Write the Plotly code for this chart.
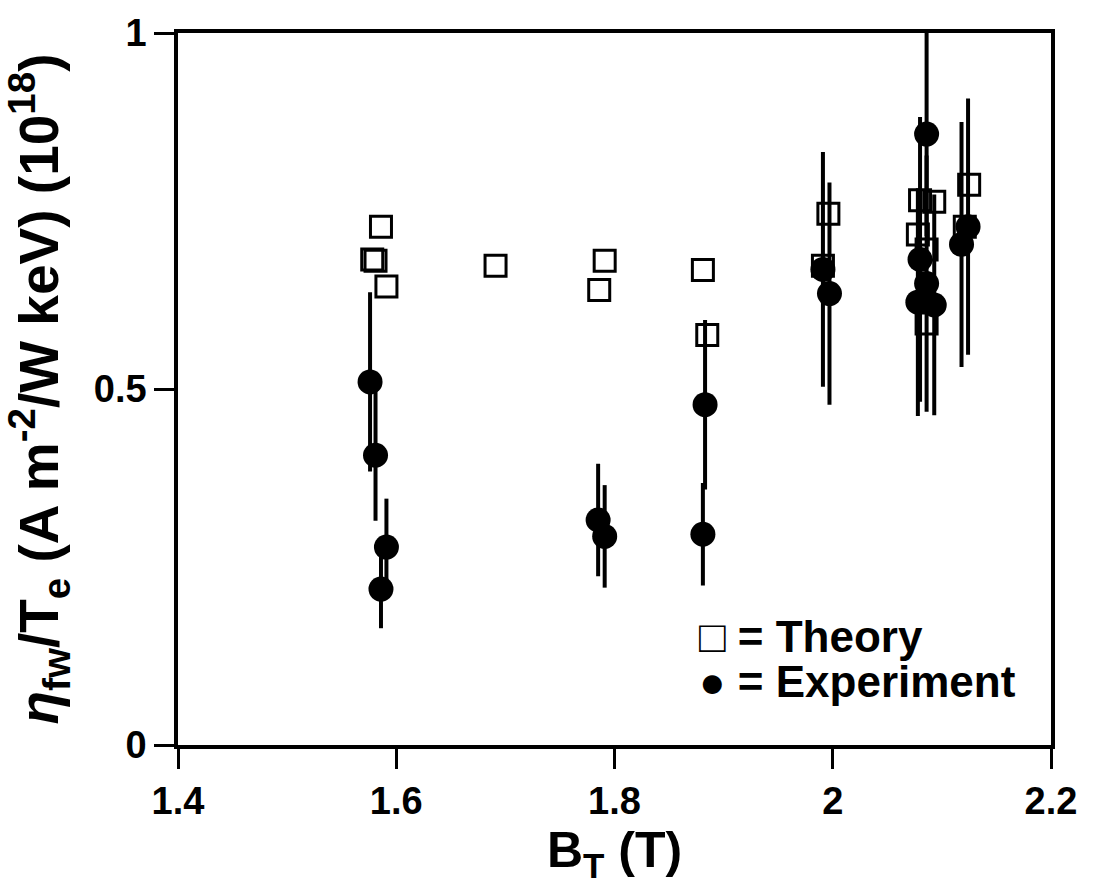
import plotly.graph_objects as go

# Theory (open squares)
theory_bt = [1.586, 1.578, 1.581, 1.591, 1.691, 1.791, 1.786, 1.881, 1.885,
             1.996, 1.991, 2.080, 2.093, 2.078, 2.086, 2.086, 2.125, 2.121]
theory_eta = [0.728, 0.682, 0.680, 0.644, 0.673, 0.680, 0.639, 0.667, 0.576,
              0.746, 0.673, 0.765, 0.763, 0.717, 0.696, 0.592, 0.787, 0.728]

# Experiment (filled circles with error bars)
exp_bt = [1.576, 1.581, 1.591, 1.586, 1.785, 1.791, 1.883, 1.881,
          1.991, 1.997, 2.086, 2.080, 2.086, 2.078, 2.093, 2.124, 2.118]
exp_eta = [0.510, 0.407, 0.278, 0.219, 0.316, 0.293, 0.478, 0.296,
           0.668, 0.634, 0.858, 0.682, 0.648, 0.622, 0.618, 0.728, 0.703]
exp_err = [0.126, 0.092, 0.068, 0.055, 0.079, 0.072, 0.119, 0.072,
           0.165, 0.156, 0.143, 0.200, 0.180, 0.160, 0.155, 0.180, 0.172]

x_ticks = [1.4, 1.6, 1.8, 2.0, 2.2]
x_ticklabels = ["1.4", "1.6", "1.8", "2", "2.2"]
y_ticks = [0, 0.5, 1]
y_ticklabels = ["0", "0.5", "1"]

legend_labels = ["□ = Theory", "● = Experiment"]

FONT = "Liberation Sans, Arial, sans-serif"

fig = go.Figure()
fig.add_trace(go.Scatter(
    x=theory_bt, y=theory_eta, mode="markers", name="Theory",
    marker=dict(symbol="square-open", size=21, color="black",
                line=dict(width=3, color="black")),
))
fig.add_trace(go.Scatter(
    x=exp_bt, y=exp_eta, mode="markers", name="Experiment",
    marker=dict(symbol="circle", size=25, color="black"),
    error_y=dict(type="data", array=exp_err, visible=True,
                 thickness=4, width=0, color="black"),
))

axis_common = dict(
    showline=True, linewidth=3.5, linecolor="black", mirror=True,
    ticks="outside", tickwidth=2.5, tickcolor="black",
    showgrid=False, zeroline=False,
    tickfont=dict(family=FONT, size=38, color="black", weight="bold"),
)

fig.update_layout(
    width=1094, height=886,
    margin=dict(l=178, r=43, t=22, b=141),
    paper_bgcolor="white", plot_bgcolor="white",
    font=dict(family=FONT, color="black", weight="bold"),
    xaxis=dict(range=[1.4, 2.2], tickvals=x_ticks, ticktext=x_ticklabels,
               ticklen=20,
               title=dict(text="B<sub>T</sub> (T)", standoff=8,
                          font=dict(family=FONT, size=50, weight="bold")),
               **axis_common),
    yaxis=dict(range=[0, 1], tickvals=y_ticks, ticktext=y_ticklabels,
               ticklen=20,
               title=dict(text="<i>η</i><sub>fw</sub>/T<sub>e</sub> (A m<sup>-2</sup>/W keV) (10<sup>18</sup>)",
                          standoff=32,
                          font=dict(family=FONT, size=55, weight="bold")),
               **axis_common),
    showlegend=False,
)

for i, lab in enumerate(legend_labels):
    fig.add_annotation(
        xref="paper", yref="paper", x=0.595, y=0.152 - i * 0.063,
        xanchor="left", yanchor="middle", showarrow=False,
        text=lab, font=dict(family=FONT, size=44, color="black", weight="bold"),
    )

fig.write_html("out.html")
